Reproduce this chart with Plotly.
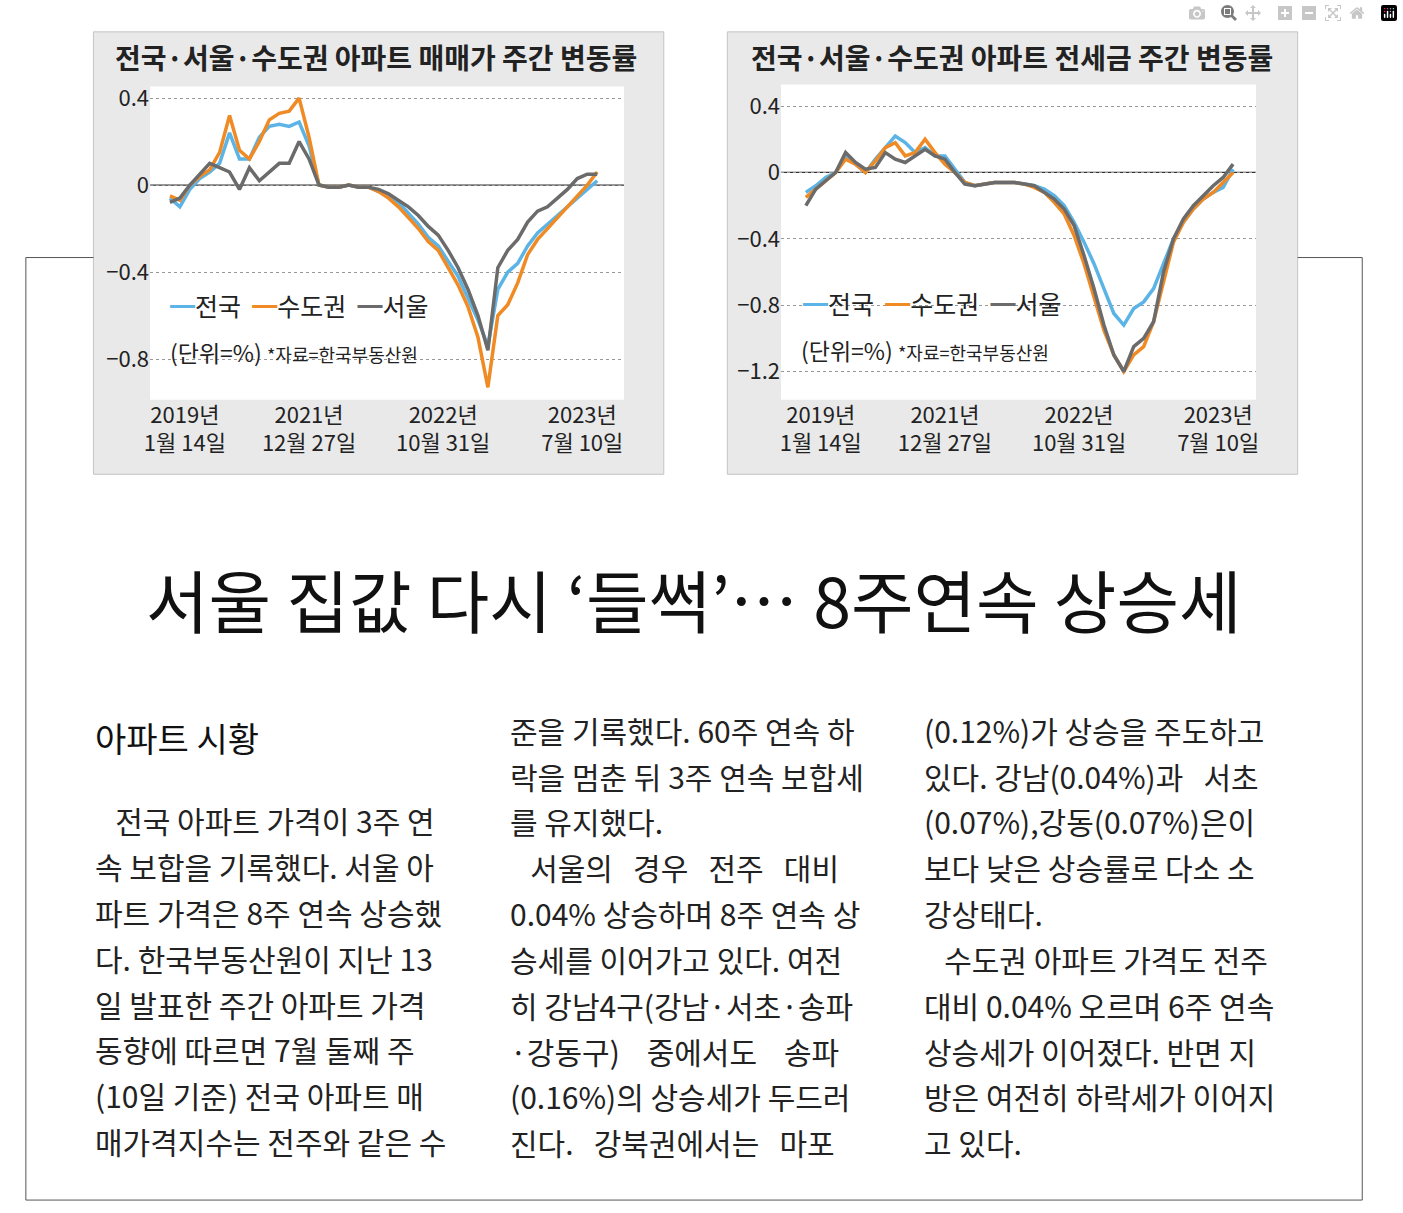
import plotly.graph_objects as go

W, H = 1403, 1213
week_idx = list(range(44))
tick_pos = [1.5, 14, 27.5, 41.5]
tick_text = ["2019년<br>1월 14일", "2021년<br>12월 27일", "2022년<br>10월 31일", "2023년<br>7월 10일"]

sale_nation = [-0.06,-0.1,-0.02,0.03,0.06,0.1,0.24,0.12,0.12,0.22,0.27,0.28,0.27,0.29,0.18,0.0,-0.01,-0.01,0,-0.01,-0.01,-0.03,-0.05,-0.08,-0.13,-0.18,-0.24,-0.28,-0.35,-0.42,-0.52,-0.62,-0.74,-0.48,-0.4,-0.36,-0.28,-0.22,-0.18,-0.14,-0.1,-0.06,-0.02,0.02]
sale_metro = [-0.05,-0.07,0.0,0.04,0.07,0.15,0.32,0.16,0.12,0.2,0.3,0.33,0.34,0.4,0.22,0.0,-0.01,-0.01,0,-0.01,-0.01,-0.03,-0.06,-0.1,-0.15,-0.2,-0.26,-0.3,-0.38,-0.46,-0.56,-0.7,-0.93,-0.6,-0.55,-0.45,-0.32,-0.25,-0.2,-0.15,-0.1,-0.05,0.0,0.06]
sale_seoul = [-0.08,-0.06,0.0,0.05,0.1,0.08,0.06,-0.02,0.08,0.02,0.06,0.1,0.1,0.2,0.12,0.0,-0.01,-0.01,0,-0.01,-0.01,-0.02,-0.04,-0.07,-0.1,-0.14,-0.19,-0.23,-0.3,-0.38,-0.48,-0.6,-0.76,-0.38,-0.3,-0.25,-0.17,-0.12,-0.1,-0.06,-0.02,0.03,0.05,0.05]

jeonse_nation = [-0.12,-0.08,-0.03,0.0,0.1,0.05,0.0,0.08,0.15,0.22,0.18,0.12,0.15,0.1,0.1,0.02,-0.06,-0.08,-0.07,-0.06,-0.06,-0.06,-0.07,-0.08,-0.1,-0.14,-0.2,-0.3,-0.42,-0.55,-0.7,-0.85,-0.92,-0.82,-0.78,-0.7,-0.55,-0.4,-0.3,-0.22,-0.16,-0.12,-0.09,0.02]
jeonse_metro = [-0.15,-0.1,-0.05,0.0,0.08,0.05,0.0,0.07,0.15,0.18,0.1,0.12,0.2,0.12,0.05,0.0,-0.06,-0.08,-0.07,-0.06,-0.06,-0.06,-0.07,-0.09,-0.12,-0.18,-0.25,-0.38,-0.55,-0.75,-0.95,-1.1,-1.2,-1.1,-1.05,-0.9,-0.65,-0.42,-0.3,-0.22,-0.16,-0.12,-0.06,0.0]
jeonse_seoul = [-0.2,-0.1,-0.05,0.0,0.12,0.06,0.02,0.03,0.12,0.08,0.06,0.1,0.14,0.1,0.08,0.0,-0.07,-0.08,-0.07,-0.06,-0.06,-0.06,-0.07,-0.08,-0.12,-0.16,-0.22,-0.32,-0.5,-0.7,-0.92,-1.1,-1.2,-1.05,-1.0,-0.9,-0.6,-0.4,-0.28,-0.2,-0.14,-0.08,-0.03,0.05]

series_names = ["전국", "수도권", "서울"]
colors = ["#5bb4e5", "#f08a24", "#6b6b6b"]

def px(x): return x / W
def py(y): return 1 - y / H

fig = go.Figure()
for data, xa, ya in [((sale_nation, sale_metro, sale_seoul), "x", "y"),
                     ((jeonse_nation, jeonse_metro, jeonse_seoul), "x2", "y2")]:
    for name, vals, c in zip(series_names, data, colors):
        fig.add_trace(go.Scatter(x=week_idx, y=vals, mode="lines", name=name,
                                 line=dict(color=c, width=3.5), xaxis=xa, yaxis=ya,
                                 showlegend=False))

font = "Noto Sans CJK KR"
axis_common = dict(showline=False, zeroline=False, ticks="",
                   tickfont=dict(size=22, color="#222", family="Liberation Sans Narrow, Noto Sans CJK KR"))
fig.update_layout(
    width=W, height=H, margin=dict(l=0, r=0, t=0, b=0),
    paper_bgcolor="white", plot_bgcolor="rgba(0,0,0,0)", font=dict(family=font),
    xaxis=dict(domain=[px(145), px(622)], range=[-2, 45.7], tickvals=tick_pos, ticktext=tick_text,
               showgrid=False, anchor="y", **axis_common),
    yaxis=dict(domain=[py(395), py(80)], range=[-0.987, 0.453], tickvals=[0.4, 0, -0.4, -0.8],
               ticktext=["0.4", "0", "−0.4", "−0.8"], showgrid=True, gridcolor="#999",
               griddash="dot", gridwidth=1, anchor="x", **axis_common),
    xaxis2=dict(domain=[px(780), px(1258)], range=[-2.5, 45.3], tickvals=tick_pos, ticktext=tick_text,
                showgrid=False, anchor="y2", **axis_common),
    yaxis2=dict(domain=[py(395), py(78)], range=[-1.37, 0.53], tickvals=[0.4, 0, -0.4, -0.8, -1.2],
                ticktext=["0.4", "0", "−0.4", "−0.8", "−1.2"], showgrid=True, gridcolor="#999",
                griddash="dot", gridwidth=1, anchor="x2", **axis_common),
)

shapes = []
line = dict(color="#555", width=1)
shapes += [dict(type="line", xref="paper", yref="paper", x0=px(20), x1=px(20), y0=py(252), y1=py(1200), line=line),
           dict(type="line", xref="paper", yref="paper", x0=px(1365), x1=px(1365), y0=py(252), y1=py(1200), line=line),
           dict(type="line", xref="paper", yref="paper", x0=px(20), x1=px(1365), y0=py(1200), y1=py(1200), line=line),
           dict(type="line", xref="paper", yref="paper", x0=px(20), x1=px(88), y0=py(252), y1=py(252), line=line),
           dict(type="line", xref="paper", yref="paper", x0=px(1300), x1=px(1365), y0=py(252), y1=py(252), line=line)]
for x0, x1 in [(88, 662), (726, 1300)]:
    shapes.append(dict(type="rect", xref="paper", yref="paper", x0=px(x0), x1=px(x1), y0=py(470), y1=py(25),
                       fillcolor="#e9e9e9", line=dict(color="#c4c4c4", width=1), layer="below"))
for x0, x1, y0 in [(145, 622, 80), (780, 1258, 78)]:
    shapes.append(dict(type="rect", xref="paper", yref="paper", x0=px(x0), x1=px(x1), y0=py(395), y1=py(y0),
                       fillcolor="white", line=dict(width=0), layer="below"))
shapes.append(dict(type="line", xref="x", yref="y", x0=-2, x1=45.7, y0=0, y1=0, line=dict(color="#333", width=1.2), layer="below"))
shapes.append(dict(type="line", xref="x2", yref="y2", x0=-2.5, x1=45.3, y0=0, y1=0, line=dict(color="#333", width=1.2), layer="below"))
fig.update_layout(shapes=shapes)

ann = []
def text(x, y, t, size, anchor="left", color="#222", fam=font):
    ann.append(dict(x=px(x), y=py(y), xref="paper", yref="paper", text=t, showarrow=False,
                    xanchor=anchor, yanchor="middle", font=dict(size=size, color=color, family=fam)))

text(372, 50, "<b>전국·서울·수도권 아파트 매매가 주간 변동률</b>", 28, "center")
text(1012, 50, "<b>전국·서울·수도권 아파트 전세금 주간 변동률</b>", 28, "center")
leg = "  ".join(f"<span style='color:{c}'><b>━</b></span>{n}" for n, c in zip(series_names, colors))
text(163, 300, leg, 25)
text(800, 298, leg, 25)
text(163, 347, "(단위=%) <span style='font-size:18px'>*자료=한국부동산원</span>", 23)
text(798, 345, "(단위=%) <span style='font-size:18px'>*자료=한국부동산원</span>", 23)

text(692, 595, "서울 집값 다시 ‘들썩’… 8주연속 상승세", 68, "center", "#111")
text(88, 735, "아파트 시황", 34, "left", "#111")

col1 = ["  전국 아파트 가격이 3주 연", "속 보합을 기록했다. 서울 아", "파트 가격은 8주 연속 상승했",
        "다. 한국부동산원이 지난 13", "일 발표한 주간 아파트 가격", "동향에 따르면 7월 둘째 주",
        "(10일 기준) 전국 아파트 매", "매가격지수는 전주와 같은 수"]
col2 = ["준을 기록했다. 60주 연속 하", "락을 멈춘 뒤 3주 연속 보합세", "를 유지했다.",
        "  서울의  경우  전주  대비", "0.04% 상승하며 8주 연속 상", "승세를 이어가고 있다. 여전",
        "히 강남4구(강남·서초·송파", "·강동구)   중에서도   송파", "(0.16%)의 상승세가 두드러",
        "진다.  강북권에서는  마포"]
col3 = ["(0.12%)가 상승을 주도하고", "있다. 강남(0.04%)과  서초", "(0.07%),강동(0.07%)은이",
        "보다 낮은 상승률로 다소 소", "강상태다.", "  수도권 아파트 가격도 전주",
        "대비 0.04% 오르며 6주 연속", "상승세가 이어졌다. 반면 지", "방은 여전히 하락세가 이어지", "고 있다."]
for x0, y0, col in [(88, 818, col1), (505, 727, col2), (922, 727, col3)]:
    for i, t in enumerate(col):
        text(x0, y0 + i * 46.1, t.replace("  ", "&nbsp;&nbsp;&nbsp;"), 30)

fig.update_layout(annotations=ann)
fig.write_html("out.html",
               post_script="document.body.style.margin='0';document.body.style.overflow='hidden';")
